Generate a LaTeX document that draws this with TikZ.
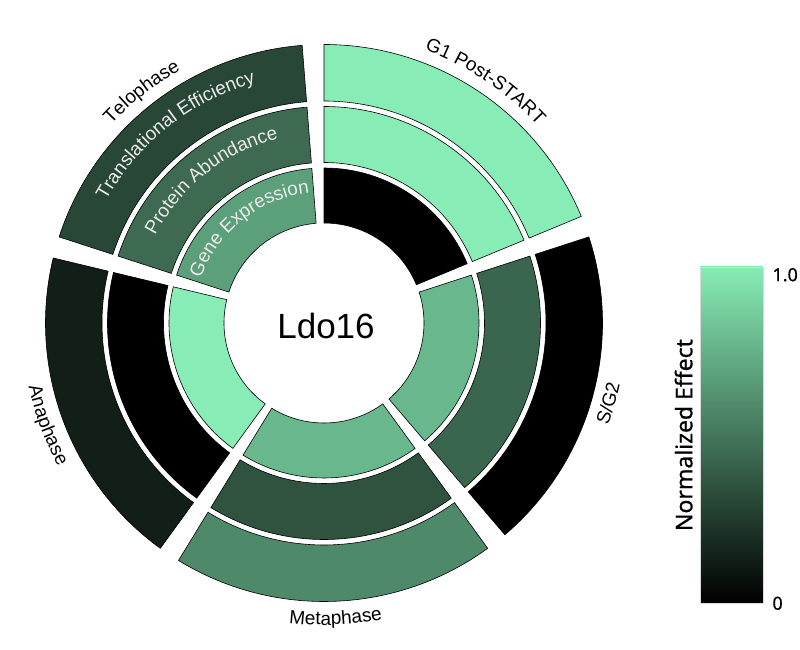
\documentclass[tikz,border=0pt]{standalone}
\usepackage{fontspec}
\setmainfont{Liberation Sans}
\newfontfamily\barfont{Noto Sans}[FakeBold=0.6]
\usepackage{tikz}
\usetikzlibrary{decorations.text}
\definecolor{mint}{RGB}{135,236,181}
\newcommand\labelfont{\fontsize{19}{22}\selectfont}

\begin{document}
\begin{tikzpicture}
[x=1pt,y=1pt,
  cellDecorate/.style={draw=black,line width=0.6pt},
  phaseDecorate/.style={decorate,decoration={text along path,text align=center,text={|\labelfont|#1}}},
  ringDecorate/.style={decorate,decoration={text along path,text align=center,text color=white!92!black,text={|\labelfont|#1}}},
  barDecorate/.style={shape=rectangle,draw=black!15,line width=0.5pt,top color=mint,bottom color=black,minimum width=63pt,minimum height=336pt,inner sep=0pt},
  tickDecorate/.style={anchor=west,inner sep=0pt,font=\barfont\fontsize{18}{18}\selectfont}]
\useasboundingbox (-324,-327) rectangle (476,323);
%% cells: start angle / translational efficiency / protein abundance / gene expression
\foreach \start/\tev/\pav/\gev in {22.5/100/100/0, 310.5/0/43/78, 238.5/58/35/78, 166.5/13/0/100, 94.5/30/45/68} {
  \foreach \rin/\rout/\val in {100/155/\gev, 160.5/216.5/\pav, 222/278.5/\tev} {
    \draw[cellDecorate,fill=mint!\val!black] (\start:\rin)
      arc[start angle=\start,delta angle=67.5,radius=\rin]
      -- (\start+67.5:\rout)
      arc[start angle=\start+67.5,delta angle=-67.5,radius=\rout] -- cycle;
  }
}
%% phase names, upper half read clockwise
\foreach \mid/\name in {56.25/G1 Post-START, 128.25/Telophase} {
  \path[phaseDecorate/.expanded=\name] (\mid+40:291)
    arc[start angle=\mid+40,delta angle=-80,radius=291];
}
%% phase names, lower half read counterclockwise
\foreach \mid/\name in {344.25/{S/G2}, 272.25/Metaphase, 200.25/Anaphase} {
  \path[phaseDecorate/.expanded=\name] (\mid-40:302)
    arc[start angle=\mid-40,delta angle=80,radius=302];
}
%% ring names inside the telophase cells
\foreach \rad/\name in {250/Translational Efficiency, 190/Protein Abundance, 131/Gene Expression} {
  \path[ringDecorate/.expanded=\name] (168.25:\rad)
    arc[start angle=168.25,delta angle=-80,radius=\rad];
}
%% gene and colour bar
\node (geneName) at (2,-3) {\fontsize{35}{35}\selectfont Ldo16};
\node (colorBar) at (407.5,-112) [barDecorate] {};
\node (barTop) at ([xshift=9pt,yshift=-8pt]colorBar.north east) [tickDecorate] {1.0};
\node (barBottom) at ([xshift=9pt]colorBar.south east) [tickDecorate] {0};
\node (barTitle) at ([xshift=-7pt]colorBar.west) [rotate=90,anchor=south,inner sep=0pt,font=\barfont\fontsize{23}{23}\selectfont] {Normalized Effect};
\end{tikzpicture}
\end{document}
